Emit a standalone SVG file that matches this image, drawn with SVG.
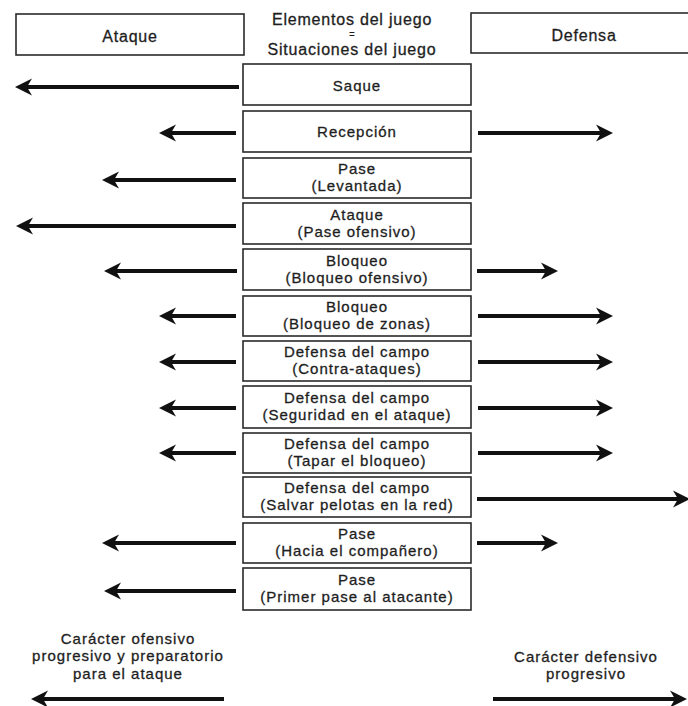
<svg xmlns="http://www.w3.org/2000/svg" width="688" height="706" viewBox="0 0 688 706">
<style>
  .bg{fill:#ffffff}
  .box{fill:#ffffff;stroke:#2a2a2a;stroke-width:1.6}
  .t{font-family:"Liberation Sans",Arial,sans-serif;font-size:15px;fill:#1e1e1e;stroke:#1e1e1e;stroke-width:0.3;text-anchor:middle;letter-spacing:1px}
  .h{font-family:"Liberation Sans",Arial,sans-serif;font-size:16px;fill:#1e1e1e;stroke:#1e1e1e;stroke-width:0.3;text-anchor:middle;letter-spacing:0.8px}
  .eq{font-family:"Liberation Sans",Arial,sans-serif;font-size:10px;fill:#1e1e1e;text-anchor:middle}
  .ar{stroke:#111;stroke-width:4;fill:none;marker-end:url(#ah)}
</style>
<defs>
  <marker id="ah" viewBox="-18 -10 20 20" refX="-10" refY="0" markerWidth="20" markerHeight="20" markerUnits="userSpaceOnUse" orient="auto">
    <path d="M0,0 L-17,-8.5 L-12,0 L-17,8.5 Z" fill="#111"/>
  </marker>
</defs>
<rect class="bg" x="0" y="0" width="688" height="706"/>

<g id="header-ataque">
  <rect class="box" x="16" y="14" width="228" height="41"/>
  <text class="h" x="130" y="42">Ataque</text>
</g>
<g id="header-elementos">
  <text class="h" x="352" y="25">Elementos del juego</text>
  <text class="eq" x="352" y="38">=</text>
  <text class="h" x="352" y="55">Situaciones del juego</text>
</g>
<g id="header-defensa">
  <rect class="box" x="471" y="13" width="230" height="40"/>
  <text class="h" x="584" y="41">Defensa</text>
</g>

<g id="n1"><rect class="box" x="243" y="64" width="228" height="41"/><text class="t" x="357" y="91">Saque</text></g>
<g id="n2"><rect class="box" x="243" y="111" width="228" height="41"/><text class="t" x="357" y="137">Recepción</text></g>
<g id="n3"><rect class="box" x="243" y="158" width="228" height="40"/><text class="t" x="357" y="174">Pase</text><text class="t" x="357" y="191">(Levantada)</text></g>
<g id="n4"><rect class="box" x="243" y="203" width="228" height="41"/><text class="t" x="357" y="220">Ataque</text><text class="t" x="357" y="237">(Pase ofensivo)</text></g>
<g id="n5"><rect class="box" x="243" y="249" width="228" height="41"/><text class="t" x="357" y="266">Bloqueo</text><text class="t" x="357" y="283">(Bloqueo ofensivo)</text></g>
<g id="n6"><rect class="box" x="243" y="296" width="228" height="40"/><text class="t" x="357" y="312">Bloqueo</text><text class="t" x="357" y="329">(Bloqueo de zonas)</text></g>
<g id="n7"><rect class="box" x="243" y="341" width="228" height="40"/><text class="t" x="357" y="357">Defensa del campo</text><text class="t" x="357" y="374">(Contra-ataques)</text></g>
<g id="n8"><rect class="box" x="243" y="386" width="228" height="42"/><text class="t" x="357" y="403">Defensa del campo</text><text class="t" x="357" y="420">(Seguridad en el ataque)</text></g>
<g id="n9"><rect class="box" x="243" y="433" width="228" height="40"/><text class="t" x="357" y="449">Defensa del campo</text><text class="t" x="357" y="466">(Tapar el bloqueo)</text></g>
<g id="n10"><rect class="box" x="243" y="477" width="228" height="40"/><text class="t" x="357" y="493">Defensa del campo</text><text class="t" x="357" y="510">(Salvar pelotas en la red)</text></g>
<g id="n11"><rect class="box" x="243" y="523" width="228" height="40"/><text class="t" x="357" y="539">Pase</text><text class="t" x="357" y="556">(Hacia el compañero)</text></g>
<g id="n12"><rect class="box" x="243" y="568" width="228" height="42"/><text class="t" x="357" y="585">Pase</text><text class="t" x="357" y="602">(Primer pase al atacante)</text></g>

<g id="footer-left">
  <text class="t" x="128" y="644">Carácter ofensivo</text>
  <text class="t" x="128" y="661">progresivo y preparatorio</text>
  <text class="t" x="128" y="679">para el ataque</text>
</g>
<g id="footer-right">
  <text class="t" x="586" y="662">Carácter defensivo</text>
  <text class="t" x="586" y="679">progresivo</text>
</g>

<g id="connectors">
  <line class="ar" x1="239" y1="87" x2="25" y2="87"/>
  <line class="ar" x1="236" y1="133" x2="169" y2="133"/>
  <line class="ar" x1="478" y1="133" x2="603" y2="133"/>
  <line class="ar" x1="236" y1="180" x2="112" y2="180"/>
  <line class="ar" x1="236" y1="226" x2="26" y2="226"/>
  <line class="ar" x1="237" y1="271" x2="114" y2="271"/>
  <line class="ar" x1="477" y1="271" x2="548" y2="271"/>
  <line class="ar" x1="236" y1="316" x2="169" y2="316"/>
  <line class="ar" x1="478" y1="316" x2="603" y2="316"/>
  <line class="ar" x1="236" y1="362" x2="169" y2="362"/>
  <line class="ar" x1="478" y1="362" x2="603" y2="362"/>
  <line class="ar" x1="236" y1="408" x2="169" y2="408"/>
  <line class="ar" x1="478" y1="408" x2="603" y2="408"/>
  <line class="ar" x1="236" y1="453" x2="169" y2="453"/>
  <line class="ar" x1="478" y1="453" x2="603" y2="453"/>
  <line class="ar" x1="477" y1="499" x2="680" y2="499"/>
  <line class="ar" x1="236" y1="543" x2="112" y2="543"/>
  <line class="ar" x1="477" y1="543" x2="548" y2="543"/>
  <line class="ar" x1="236" y1="591" x2="114" y2="591"/>
  <line class="ar" x1="224" y1="699" x2="41" y2="699"/>
  <line class="ar" x1="493" y1="699" x2="677" y2="699"/>
</g>
</svg>
